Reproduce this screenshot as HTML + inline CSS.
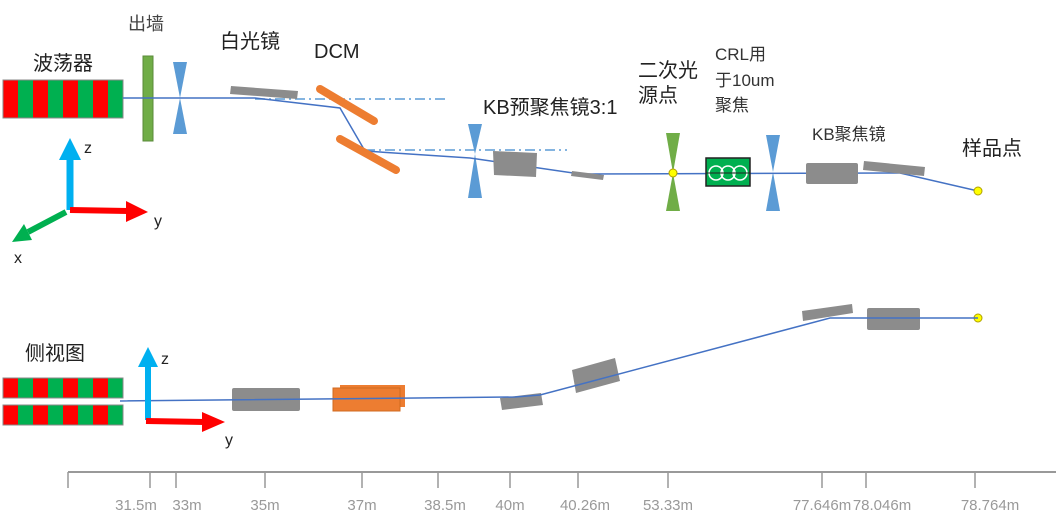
<!DOCTYPE html>
<html><head><meta charset="utf-8"><style>body{margin:0;background:#fff}svg{display:block}text{font-family:"Liberation Sans","Noto Sans CJK SC",sans-serif}</style></head><body>
<svg width="1056" height="528" viewBox="0 0 1056 528">
<defs>
<pattern id="und" x="3" width="30" height="40" patternUnits="userSpaceOnUse"><rect width="15" height="40" fill="#f00"/><rect x="15" width="15" height="40" fill="#00b050"/></pattern>
</defs>
<!-- TOP VIEW -->
<rect x="3" y="80" width="120" height="38" fill="url(#und)" stroke="#888" stroke-width="1"/>
<rect x="143" y="56" width="10" height="85" fill="#70ad47" stroke="#5a8a3a"/>
<g fill="#5b9bd5"><polygon points="173,62 187,62 180,98"/><polygon points="180,98 173,134 187,134"/>
<polygon points="468,124 482,124 475,154"/><polygon points="475,154 468,198 482,198"/>
<polygon points="766,135 780,135 773,172"/><polygon points="773,172 766,211 780,211"/></g>
<g fill="#70ad47"><polygon points="666,133 680,133 673,173"/><polygon points="673,173 666,211 680,211"/></g>
<g stroke="#5b9bd5" stroke-width="1.5" stroke-dasharray="10,4,2,4" fill="none"><line x1="255" y1="99" x2="447" y2="99"/><line x1="365" y1="150" x2="567" y2="150"/></g>
<polyline points="123,98 255,98 340,108 365,151 470,158 580,174 900,173 978,191" fill="none" stroke="#4472c4" stroke-width="1.5"/>
<g fill="#8c8c8c">
<polygon points="231,86 298,91 297,99 230,94"/>
<polygon points="493,151 537,153 536,177 494,175"/>
<polygon points="572,171 604,175 603,180 571,176"/>
<rect x="806" y="163" width="52" height="21" rx="2"/>
<polygon points="864,161 925,167 924,176 863,170"/>
</g>
<g stroke="#ed7d31" stroke-width="8" stroke-linecap="round"><line x1="320" y1="89" x2="374" y2="121"/><line x1="340" y1="139" x2="396" y2="170"/></g>
<rect x="706" y="158" width="44" height="28" fill="#00b050" stroke="#222" stroke-width="1.5"/>
<g fill="none" stroke="#fff" stroke-width="1.5"><circle cx="716" cy="173" r="7"/><circle cx="728" cy="173" r="7"/><circle cx="740" cy="173" r="7"/></g>
<line x1="706" y1="173" x2="750" y2="173" stroke="#222" stroke-width="1"/>
<g fill="#ff0" stroke="#b0a000"><circle cx="673" cy="173" r="4"/><circle cx="978" cy="191" r="4"/><circle cx="978" cy="318" r="4"/></g>
<!-- axes top -->
<line x1="70" y1="210" x2="70" y2="158" stroke="#00b0f0" stroke-width="7"/><polygon points="59,160 81,160 70,138" fill="#00b0f0"/>
<line x1="70" y1="210" x2="128" y2="211" stroke="#f00" stroke-width="6"/><polygon points="126,201 148,212 126,222" fill="#f00"/>
<line x1="66" y1="212" x2="28" y2="232" stroke="#00b050" stroke-width="6"/><polygon points="24,224 32,240 12,242" fill="#00b050"/>
<text x="84" y="153" font-size="16" fill="#222">z</text><text x="154" y="226" font-size="16" fill="#222">y</text><text x="14" y="263" font-size="16" fill="#222">x</text>
<g font-size="20" fill="#222">
<text x="33" y="70">波荡器</text><text x="220" y="48">白光镜</text><text x="314" y="58">DCM</text>
<text x="483" y="114">KB预聚焦镜3:1</text><text x="638" y="77">二次光</text><text x="638" y="102">源点</text>
<text x="962" y="155">样品点</text></g>
<text x="128" y="30" font-size="18" fill="#444">出墙</text>
<g font-size="17" fill="#333"><text x="715" y="60">CRL用</text><text x="715" y="86">于10um</text><text x="715" y="111">聚焦</text><text x="812" y="140">KB聚焦镜</text></g>
<!-- SIDE VIEW -->
<text x="25" y="360" font-size="20" fill="#222">侧视图</text>
<rect x="3" y="378" width="120" height="20" fill="url(#und)" stroke="#888"/>
<rect x="3" y="405" width="120" height="20" fill="url(#und)" stroke="#888"/>
<g fill="#8c8c8c">
<rect x="232" y="388" width="68" height="23" rx="2"/>
<polygon points="500,398 541,393 543,405 502,410"/>
<polygon points="572,370 615,358 620,381 576,393"/>
<polygon points="802,311 852,304 853,313 803,321"/>
<rect x="867" y="308" width="53" height="22" rx="2"/>
</g>
<rect x="340" y="385" width="65" height="22" fill="#ed7d31"/><rect x="333" y="388" width="67" height="23" fill="#ed7d31" stroke="#d06a20"/>
<polyline points="120,401 515,397 540,395 830,318 978,318" fill="none" stroke="#4472c4" stroke-width="1.5"/>
<line x1="148" y1="420" x2="148" y2="365" stroke="#00b0f0" stroke-width="6"/><polygon points="138,367 158,367 148,347" fill="#00b0f0"/>
<line x1="146" y1="421" x2="205" y2="422" stroke="#f00" stroke-width="6"/><polygon points="202,412 225,422 202,432" fill="#f00"/>
<text x="161" y="364" font-size="16" fill="#222">z</text><text x="225" y="445" font-size="16" fill="#222">y</text>
<!-- scale -->
<line x1="68" y1="472" x2="1056" y2="472" stroke="#999" stroke-width="2"/>
<g stroke="#999" stroke-width="1.5">
<line x1="68" y1="472" x2="68" y2="488"/><line x1="150" y1="472" x2="150" y2="488"/><line x1="176" y1="472" x2="176" y2="488"/><line x1="265" y1="472" x2="265" y2="488"/><line x1="362" y1="472" x2="362" y2="488"/><line x1="438" y1="472" x2="438" y2="488"/><line x1="510" y1="472" x2="510" y2="488"/><line x1="578" y1="472" x2="578" y2="488"/><line x1="668" y1="472" x2="668" y2="488"/><line x1="822" y1="472" x2="822" y2="488"/><line x1="866" y1="472" x2="866" y2="488"/><line x1="975" y1="472" x2="975" y2="488"/></g>
<g font-size="15" fill="#999" text-anchor="middle">
<text x="136" y="510">31.5m</text><text x="187" y="510">33m</text><text x="265" y="510">35m</text><text x="362" y="510">37m</text><text x="445" y="510">38.5m</text><text x="510" y="510">40m</text><text x="585" y="510">40.26m</text><text x="668" y="510">53.33m</text><text x="822" y="510">77.646m</text><text x="882" y="510">78.046m</text><text x="990" y="510">78.764m</text></g>
</svg>
</body></html>
